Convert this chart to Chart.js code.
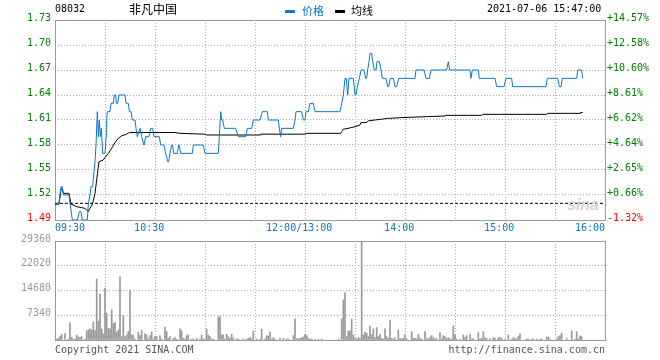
<!DOCTYPE html>
<html>
<head>
<meta charset="utf-8">
<script src="https://cdn.jsdelivr.net/npm/chart.js@4/dist/chart.umd.min.js"></script>
<style>
body{margin:0;background:#fff;width:660px;height:360px;position:relative;overflow:hidden}
canvas{position:absolute;left:0}
.t{position:absolute;white-space:nowrap;font-family:'DejaVu Sans Mono',monospace;font-size:10px;line-height:10px;color:#000}
.cn{font-family:'Noto Sans CJK SC',sans-serif;line-height:12px}
.bar{position:absolute;height:3px;width:10px}
</style>
</head>
<body>
<canvas id="price" width="660" height="240" style="top:0"></canvas>
<canvas id="vol" width="660" height="130" style="top:230px"></canvas>

<div class="t" style="left:55px;top:4px">08032</div>
<div class="t cn" style="left:129px;top:3px;font-size:12px">非凡中国</div>
<div class="bar" style="left:285px;top:10px;background:#0a78c8"></div>
<div class="t cn" style="left:302px;top:4px;font-size:11px;color:#0a78c8">价格</div>
<div class="bar" style="left:335px;top:10px;background:#000"></div>
<div class="t cn" style="left:351px;top:4px;font-size:11px">均线</div>
<div class="t" style="left:487px;top:4px">2021-07-06 15:47:00</div>
<div class="t" style="left:55px;top:345px;color:#555">Copyright 2021 SINA.COM</div>
<div class="t" style="right:55px;top:345px;color:#555">http://finance.sina.com.cn</div>
<div style="position:absolute;left:567px;top:196px;font:italic bold 16px 'Liberation Sans',sans-serif;color:#d2d2d2">sina</div>

<script>
// minutes since 09:30, lunch break removed (12:00 == 13:00 == 150)
const prevClose = 1.51;
const priceTicks = [1.49, 1.52, 1.55, 1.58, 1.61, 1.64, 1.67, 1.70, 1.73];
const pctLabels = ['-1.32%', '+0.66%', '+2.65%', '+4.64%', '+6.62%', '+8.61%', '+10.60%', '+12.58%', '+14.57%'];
const volTicks = [0, 7340, 14680, 22020, 29360];
const timeTicks = [0, 60, 150, 210, 270, 330];
const timeLabels = ['09:30', '10:30', '12:00/13:00', '14:00', '15:00', '16:00'];

const priceTimes = [
  0,2.4,3.6,4.4,5,8.4,9,10.4,13.4,14.6,
  15.6,16.4,19.4,20,21,21.6,22.6,23,24,24.6,
  25.4,26,26.6,27.2,27.8,28.6,30,30.6,31,31.4,
  33,33.6,35,35.6,36.4,36.8,37.6,38.4,42,42.6,
  44,44.6,45.6,46.4,48,48.6,49.4,51,52,53.4,
  54.4,56.4,57.4,58.6,59.4,62.6,63.4,65.4,66.4,67.6,
  68.2,69,70,70.6,71.2,73.4,74.2,74.6,75.4,82.4,
  83,89,90,98,98.6,99.4,100,100.6,101.6,108.4,
  110,114.4,115.4,118,119,123,124.4,127.4,128,134,
  134.6,135.4,136,143,144,144.6,148,149,150,150.6,
  152,153,155,156,171,172,173,174,174.8,175.6,
  176.4,179,180,180.6,181.4,182.6,183.6,185.4,186.4,187,
  187.6,188.4,189,190,190.6,191.6,192.6,193.2,194.6,195.6,
  196.4,198.6,199.6,200.2,201.2,203,204,205,206.2,216,
  216.6,221.4,222.6,224.6,225.6,235,236,236.8,249,249.6,
  250.4,254,254.6,264,265,269.4,270.6,274,274.6,294.6,
  295.4,301.6,302.6,303.6,304.4,313,313.6,316,316.6
];
const priceValues = [
  1.51,1.51,1.53,1.53,1.52,1.52,1.51,1.49,1.49,1.50,
  1.50,1.49,1.49,1.51,1.52,1.53,1.53,1.54,1.56,1.58,
  1.62,1.59,1.61,1.59,1.60,1.57,1.57,1.59,1.61,1.62,
  1.62,1.63,1.63,1.64,1.64,1.63,1.63,1.64,1.64,1.63,
  1.63,1.62,1.62,1.61,1.61,1.60,1.59,1.60,1.59,1.58,
  1.59,1.59,1.60,1.60,1.59,1.59,1.58,1.58,1.57,1.56,
  1.56,1.57,1.58,1.58,1.57,1.57,1.58,1.58,1.57,1.57,
  1.58,1.58,1.57,1.57,1.59,1.62,1.61,1.61,1.60,1.60,
  1.59,1.59,1.60,1.60,1.61,1.61,1.62,1.62,1.61,1.61,
  1.60,1.59,1.60,1.60,1.61,1.62,1.62,1.61,1.61,1.62,
  1.62,1.63,1.63,1.62,1.62,1.63,1.64,1.66,1.66,1.64,
  1.66,1.66,1.64,1.64,1.65,1.66,1.67,1.67,1.66,1.66,
  1.67,1.68,1.69,1.69,1.68,1.67,1.67,1.68,1.68,1.67,
  1.66,1.66,1.65,1.65,1.66,1.66,1.65,1.65,1.66,1.66,
  1.67,1.67,1.66,1.66,1.67,1.67,1.68,1.67,1.67,1.66,
  1.67,1.67,1.66,1.66,1.65,1.65,1.66,1.66,1.65,1.65,
  1.66,1.66,1.65,1.65,1.66,1.66,1.67,1.67,1.66
];

const avgTimes = [
  0,2.4,3.6,4.4,5,8.4,9.6,12,13,18,
  20,21,22,23,24,25,26.4,29,30,32,
  34,36,38,40,43,44.6,72,75,90,91,
  123,123.4,150,150.6,171.4,172,173,176,180,183,
  183.6,187,188,196,200,209.4,223,234,234.6,256,
  256.6,295,295.4,315,315.4,316.6
];
const avgValues = [
  1.509,1.509,1.527,1.527,1.522,1.522,1.509,1.507,1.506,1.504,
  1.500,1.504,1.507,1.513,1.522,1.538,1.560,1.562,1.565,1.570,
  1.576,1.583,1.588,1.591,1.593,1.595,1.595,1.594,1.593,1.592,
  1.592,1.593,1.593,1.594,1.594,1.596,1.599,1.600,1.602,1.604,
  1.607,1.607,1.609,1.611,1.612,1.613,1.614,1.6148,1.6156,1.6156,
  1.6168,1.6168,1.618,1.618,1.619,1.619
];

const volTimes = [
  1,2,3,4,6,8,9,10,11,12,
  13,14,15,16,18,19,20,21,22,23,
  24,25,26,27,28,29,30,31,32,33,
  34,35,36,37,38,39,40,41,42,43,
  44,45,46,47,48,50,51,52,54,55,
  56,57,58,59,60,61,63,64,66,67,
  68,69,71,72,73,75,76,77,78,79,
  80,82,83,85,87,88,89,90,91,92,
  93,94,95,98,99,100,101,102,103,104,
  105,106,107,109,110,113,115,116,117,118,
  119,121,123,124,126,127,128,129,130,131,
  132,135,137,139,140,143,144,145,146,147,
  148,149,150,151,152,153,154,156,158,160,
  170,172,173,174,175,176,177,178,179,180,
  181,182,183,184,185,186,187,188,189,190,
  191,192,193,194,195,196,197,198,199,200,
  201,202,203,204,206,207,208,209,210,211,
  214,215,216,217,218,219,220,222,223,224,
  225,226,227,228,229,231,232,233,234,235,
  236,237,238,239,240,241,243,245,246,247,
  249,250,251,254,255,256,257,258,259,261,
  263,264,266,267,268,270,272,274,275,276,
  277,278,279,283,284,286,287,289,291,292,
  295,296,297,301,302,303,304,307,310,312,
  313,314,315,316
];
const volValues = [
  300,500,1000,1700,1900,300,5100,800,300,300,
  1500,900,800,1000,300,2700,3000,3300,3000,5400,
  2800,18100,5600,13650,3300,1800,15300,7900,3400,3300,
  8900,4900,5200,2300,3000,18700,1000,7200,1000,1500,
  2500,14700,1500,1500,300,2300,1300,2900,1900,1500,
  300,1300,2400,300,1100,1000,1200,300,3800,2500,
  500,1000,500,700,300,3300,2700,500,300,1300,
  1500,300,300,500,300,1500,300,300,3300,1500,
  1000,300,300,6900,6900,1500,1500,300,1700,1000,
  500,1700,700,300,300,300,300,500,700,300,
  2700,300,300,3200,300,1300,1200,2400,300,700,
  300,500,500,300,300,1300,6200,500,300,500,
  700,900,1700,1300,500,300,300,300,300,300,
  300,6200,11900,14100,1000,2700,2700,6200,1500,500,
  300,700,500,29360,1500,2300,2000,1000,4100,1500,
  3300,700,3700,1000,1700,500,300,3300,1000,500,
  5900,500,300,700,3000,500,300,500,1500,300,
  2500,500,500,300,1700,500,300,2500,500,300,
  700,1300,700,300,500,2200,300,1300,1000,500,
  700,300,300,4100,1500,300,300,1500,700,1300,
  1700,300,500,2200,300,500,2500,700,500,500,
  700,500,700,700,500,300,1500,300,700,500,
  300,1000,1800,300,300,300,300,300,300,300,
  900,900,300,300,1000,1300,2000,500,2700,300,
  2500,300,1200,1000
];

const blue = '#0a78c8';
const green = '#008000';
const red = '#ff0000';
const gridGrey = '#aaaaaa';
const mono = { family: "'DejaVu Sans Mono', monospace", size: 10 };

function tickColor(c){
  return c.tick && c.tick.value < prevClose ? red : green;
}

// solid grey box round the plot area
const frame = {
  id: 'frame',
  beforeDatasetsDraw(chart){
    const a = chart.chartArea, ctx = chart.ctx;
    ctx.save();
    ctx.strokeStyle = '#999';
    ctx.lineWidth = 1;
    ctx.strokeRect(a.left + 0.5, a.top + 0.5, a.right - a.left, a.bottom - a.top);
    ctx.restore();
  }
};

new Chart(document.getElementById('price'), {
  type: 'line',
  data: {
    datasets: [
      { data: priceTimes.map((t, i) => ({ x: t, y: priceValues[i] })), borderColor: blue, borderWidth: 1, pointRadius: 0, order: 0 },
      { data: avgTimes.map((t, i) => ({ x: t, y: avgValues[i] })), borderColor: '#000', borderWidth: 1, pointRadius: 0, order: 1 },
      { data: [{ x: 0, y: prevClose }, { x: 330, y: prevClose }], borderColor: '#000', borderWidth: 1, borderDash: [3, 2], pointRadius: 0, order: 2 }
    ]
  },
  options: {
    responsive: false,
    animation: false,
    devicePixelRatio: 1,
    layout: { padding: { top: 20 } },
    plugins: { legend: { display: false }, tooltip: { enabled: false } },
    elements: { line: { tension: 0 } },
    scales: {
      x: {
        type: 'linear', min: 0, max: 330,
        ticks: { stepSize: 30, display: false },
        grid: { color: gridGrey, drawTicks: false },
        border: { display: false, dash: [1, 2] },
        afterFit(s){ s.height = 0; }
      },
      x2: {
        type: 'linear', position: 'bottom', min: 0, max: 330,
        afterBuildTicks(s){
          const last = timeTicks.length - 1;
          s.ticks = timeTicks.map((t, i) => ({ value: (i === 0 || i === last) ? t : t - 3.5 }));
        },
        ticks: { align: 'inner', color: blue, font: mono, padding: 2, maxRotation: 0, autoSkip: false,
                 callback: (v, i) => timeLabels[i] },
        grid: { display: false, drawTicks: false },
        border: { display: false },
        afterFit(s){ s.height = 20; }
      },
      y: {
        position: 'left', min: 1.49, max: 1.73,
        afterBuildTicks(s){ s.ticks = priceTicks.map(v => ({ value: v })); },
        ticks: { font: mono, padding: 4, labelOffset: -2, color: tickColor, callback: v => v.toFixed(2) },
        grid: { color: gridGrey, drawTicks: false },
        border: { display: false, dash: [1, 2] },
        afterFit(s){ s.width = 55; }
      },
      y1: {
        position: 'right', min: 1.49, max: 1.73,
        afterBuildTicks(s){ s.ticks = priceTicks.map(v => ({ value: v })); },
        ticks: { font: mono, padding: 2, labelOffset: -2, color: tickColor, callback: (v, i) => pctLabels[i] },
        grid: { display: false, drawTicks: false },
        border: { display: false },
        afterFit(s){ s.width = 55; }
      }
    }
  },
  plugins: [frame]
});

new Chart(document.getElementById('vol'), {
  type: 'bar',
  data: {
    datasets: [{
      data: volTimes.map((t, i) => ({ x: t, y: volValues[i] })),
      backgroundColor: '#999999',
      borderWidth: 0,
      barThickness: 1
    }]
  },
  options: {
    responsive: false,
    animation: false,
    devicePixelRatio: 1,
    layout: { padding: { top: 11, bottom: 20, right: 55 } },
    plugins: { legend: { display: false }, tooltip: { enabled: false } },
    scales: {
      x: {
        type: 'linear', min: 0, max: 330, offset: false,
        ticks: { stepSize: 30, display: false },
        grid: { color: gridGrey, drawTicks: false, offset: false },
        border: { display: false, dash: [1, 2] },
        afterFit(s){ s.height = 0; }
      },
      y: {
        min: 0, max: 29360,
        afterBuildTicks(s){ s.ticks = volTicks.map(v => ({ value: v })); },
        ticks: { font: mono, color: '#999', padding: 4, labelOffset: -2, callback: v => v === 0 ? '' : String(v) },
        grid: { color: gridGrey, drawTicks: false },
        border: { display: false, dash: [1, 2] },
        afterFit(s){ s.width = 55; }
      }
    }
  },
  plugins: [frame]
});
</script>
</body>
</html>
